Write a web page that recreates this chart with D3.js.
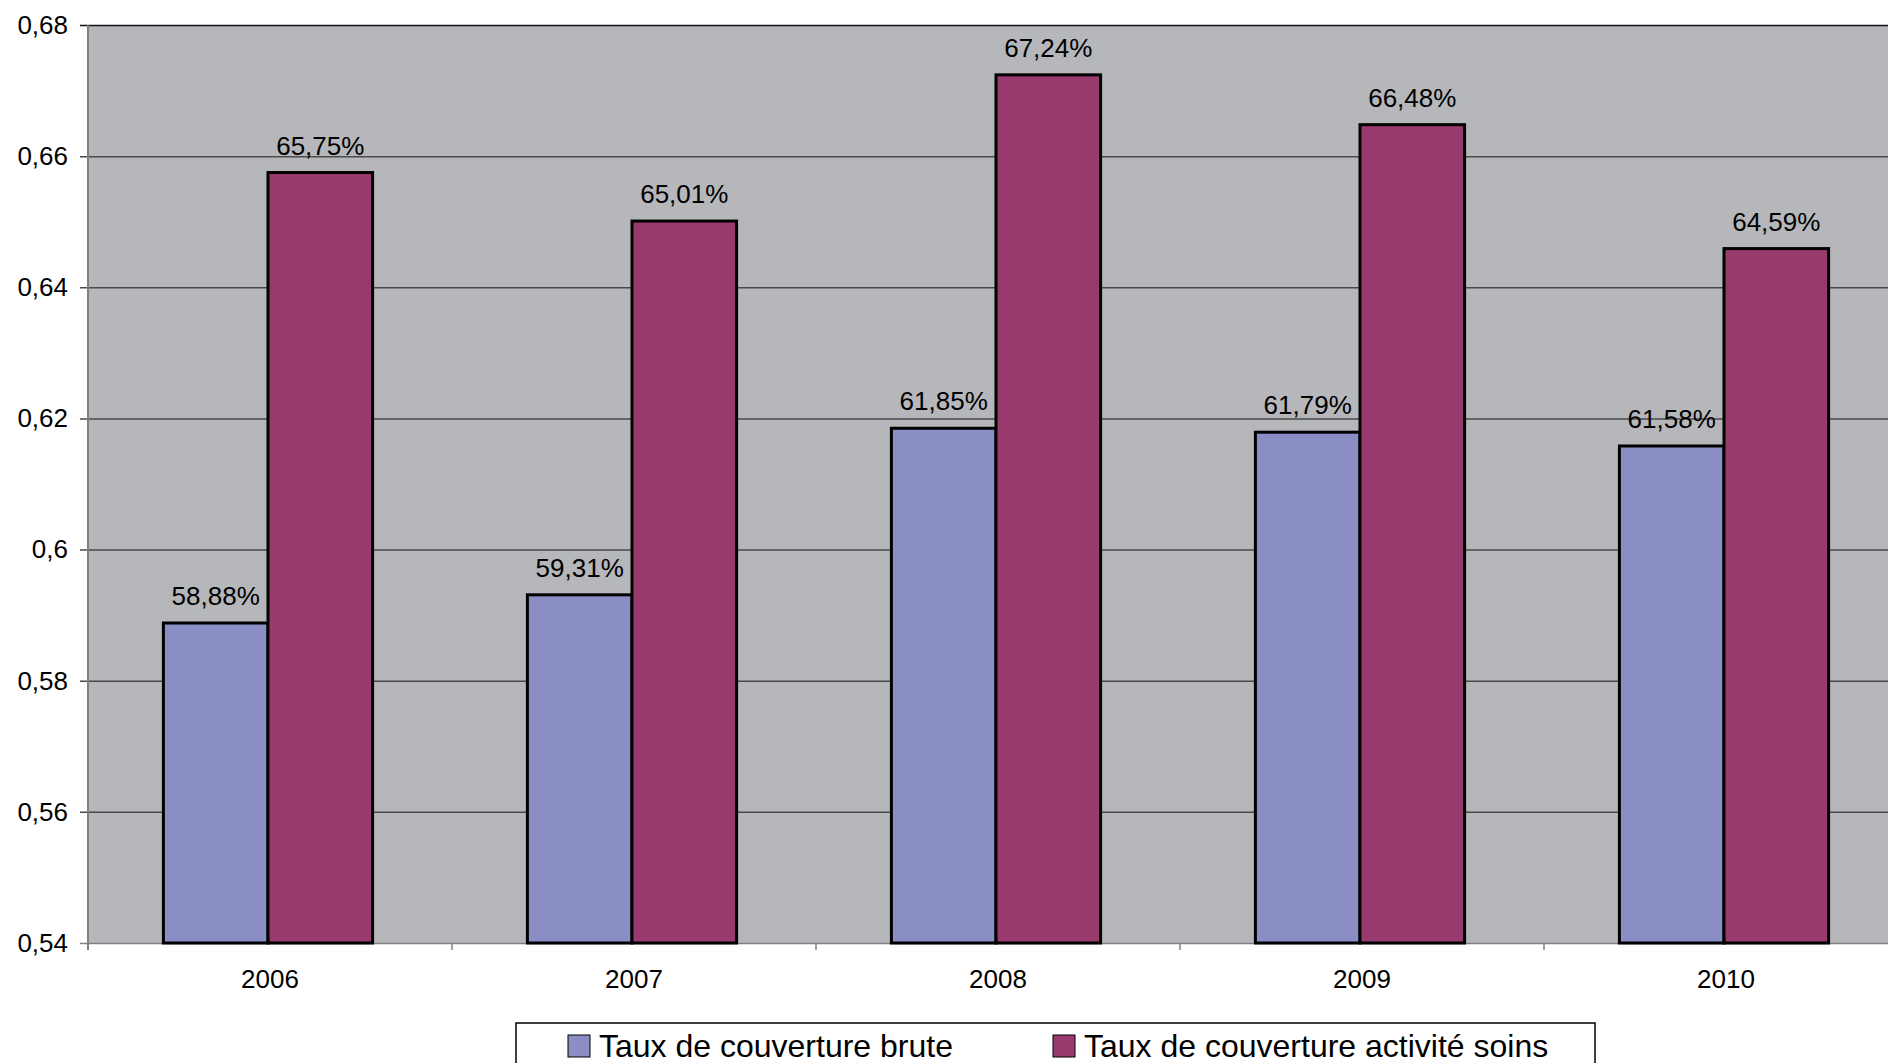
<!DOCTYPE html>
<html>
<head>
<meta charset="utf-8">
<script src="https://d3js.org/d3.v7.min.js"></script>
<style>
  body { margin: 0; background: #fff; }
  svg { font-family: "Liberation Sans", Arial, sans-serif; display: block; }
  .grid line { stroke: #4a4a4a; stroke-width: 1.5; }
  .y.axis text, .x.axis text { font-size: 26px; fill: #000; }
  .bar { stroke: #000; stroke-width: 3; }
  .label { font-size: 26px; fill: #000; }
  .legend text { font-size: 32px; fill: #000; }
</style>
</head>
<body>
<div id="chart"></div>
<script>
var years = ["2006", "2007", "2008", "2009", "2010"];
var seriesNames = ["Taux de couverture brute", "Taux de couverture activité soins"];
var brute = [0.5888, 0.5931, 0.6185, 0.6179, 0.6158];
var soins = [0.6575, 0.6501, 0.6724, 0.6648, 0.6459];
var yTicks = [0.54, 0.56, 0.58, 0.60, 0.62, 0.64, 0.66, 0.68];
var yTickLabels = ["0,54", "0,56", "0,58", "0,6", "0,62", "0,64", "0,66", "0,68"];
var colors = ["#8b8ec5", "#983a6e"];

var width = 1888;
var height = 1063;
var plotLeft = 88, plotTop = 25, plotBottom = 943;
var step = 364;

/* Scales */
var x0 = d3.scaleBand()
  .domain(years)
  .range([plotLeft, plotLeft + step * years.length])
  .padding(0);

// bar pair sits a hair left of the band centre in the original
var x1 = d3.scaleBand()
  .domain(seriesNames)
  .range([-2, x0.bandwidth() - 2])
  .paddingInner(0)
  .paddingOuter(0.74);

var y = d3.scaleLinear()
  .domain([0.54, 0.68])
  .range([plotBottom, plotTop]);

var svg = d3.select("#chart").append("svg")
  .attr("width", width)
  .attr("height", height);

/* plot area */
svg.append("rect")
  .attr("x", plotLeft)
  .attr("y", plotTop)
  .attr("width", width - plotLeft)
  .attr("height", plotBottom - plotTop)
  .attr("fill", "#b6b7bb");

/* Y axis with gridlines */
var yAxis = d3.axisLeft(y)
  .tickValues(yTicks)
  .tickFormat((d, i) => yTickLabels[i])
  .tickSizeInner(-(width - plotLeft))
  .tickSizeOuter(0)
  .tickPadding(20);

var gy = svg.append("g")
  .attr("class", "y axis grid")
  .attr("transform", `translate(${plotLeft},0)`)
  .call(yAxis);
gy.select(".domain").remove();
gy.selectAll(".tick line").attr("x1", -8);
gy.selectAll(".tick")
  .filter(d => d === 0.68)
  .select("line").style("stroke", "#111");
gy.selectAll(".tick")
  .filter(d => d === 0.54)
  .select("line").style("stroke", "#808080");

/* Bars */
var data = years.map((yr, i) => ({ year: yr, values: [brute[i], soins[i]] }));

var groups = svg.append("g")
  .selectAll("g")
  .data(data).enter()
  .append("g")
  .attr("transform", d => `translate(${x0(d.year)},0)`);

groups.selectAll("rect")
  .data(d => d.values.map((v, j) => ({ name: seriesNames[j], value: v, j: j })))
  .enter()
  .append("rect")
  .attr("class", "bar")
  .attr("x", d => x1(d.name))
  .attr("y", d => y(d.value))
  .attr("width", x1.bandwidth())
  .attr("height", d => plotBottom - y(d.value))
  .attr("fill", d => colors[d.j]);

groups.selectAll("text")
  .data(d => d.values.map((v, j) => ({ name: seriesNames[j], value: v })))
  .enter()
  .append("text")
  .attr("class", "label")
  .attr("text-anchor", "middle")
  .attr("x", d => x1(d.name) + x1.bandwidth() / 2)
  .attr("y", d => y(d.value) - 18)
  .text(d => (d.value * 100).toFixed(2).replace(".", ",") + "%");

/* Left axis line */
svg.append("line")
  .attr("x1", plotLeft).attr("x2", plotLeft)
  .attr("y1", y(0.68)).attr("y2", plotBottom + 7)
  .attr("stroke", "#808080")
  .attr("stroke-width", 2);

/* X axis */
var xAxis = d3.axisBottom(x0)
  .tickSize(0)
  .tickPadding(27);

var gx = svg.append("g")
  .attr("class", "x axis")
  .attr("transform", `translate(0,${plotBottom})`)
  .call(xAxis);
gx.select(".domain").remove();

svg.append("g")
  .selectAll("line")
  .data(years.concat(["end"]))
  .enter()
  .append("line")
  .attr("x1", (d, i) => x0.range()[0] + i * x0.step())
  .attr("x2", (d, i) => x0.range()[0] + i * x0.step())
  .attr("y1", plotBottom)
  .attr("y2", plotBottom + 7)
  .attr("stroke", "#808080")
  .attr("stroke-width", 1.5);

/* Legend */
var legend = svg.append("g").attr("class", "legend");
legend.append("rect")
  .attr("x", 516).attr("y", 1023)
  .attr("width", 1079).attr("height", 60)
  .attr("fill", "#fff")
  .attr("stroke", "#000")
  .attr("stroke-width", 1.5);

var legendX = [568, 1053];
seriesNames.forEach(function(name, i) {
  legend.append("rect")
    .attr("x", legendX[i]).attr("y", 1035)
    .attr("width", 22).attr("height", 22)
    .attr("fill", colors[i])
    .attr("stroke", "#000")
    .attr("stroke-width", 1);
  legend.append("text")
    .attr("x", legendX[i] + 31)
    .attr("y", 1057)
    .text(name);
});
</script>
</body>
</html>
